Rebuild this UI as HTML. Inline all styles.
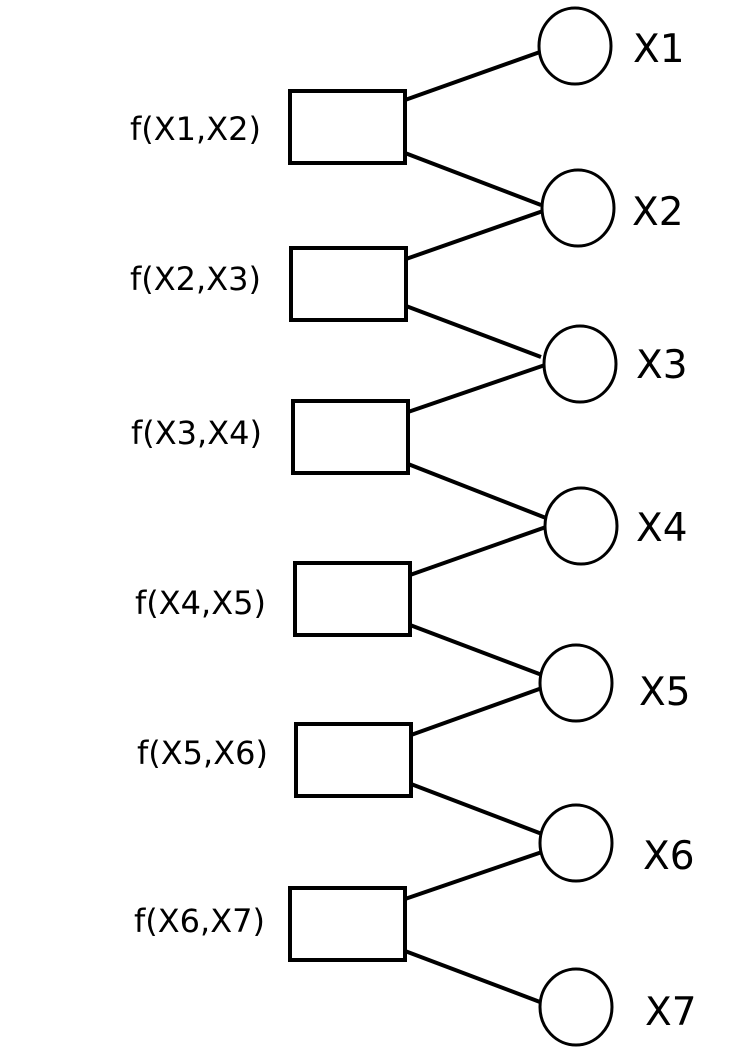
<!DOCTYPE html>
<html><head><meta charset="utf-8"><style>
html,body{margin:0;padding:0;background:#fff;}
svg{display:block;}
text{font-family:"DejaVu Sans","Liberation Sans",sans-serif;fill:#000;}
</style></head><body>
<svg width="745" height="1053" viewBox="0 0 745 1053" xmlns="http://www.w3.org/2000/svg">
<g stroke="#000" stroke-width="4" fill="none">
<line x1="405" y1="100" x2="540" y2="52"/>
<line x1="405" y1="153" x2="541" y2="205"/>
<line x1="406" y1="259" x2="543" y2="211"/>
<line x1="406" y1="306" x2="541" y2="357"/>
<line x1="408" y1="412" x2="545" y2="365"/>
<line x1="408" y1="464" x2="546" y2="518"/>
<line x1="410" y1="575" x2="546" y2="527"/>
<line x1="410" y1="625" x2="542" y2="675"/>
<line x1="411" y1="735" x2="542" y2="688"/>
<line x1="411" y1="784" x2="542" y2="834"/>
<line x1="405" y1="899" x2="542" y2="852"/>
<line x1="405" y1="951" x2="540" y2="1002"/>
<rect x="290" y="91" width="115" height="72"/>
<rect x="291" y="248" width="115" height="72"/>
<rect x="293" y="401" width="115" height="72"/>
<rect x="295" y="563" width="115" height="72"/>
<rect x="296" y="724" width="115" height="72"/>
<rect x="290" y="888" width="115" height="72"/>
</g>
<g stroke="#000" stroke-width="3" fill="#fff">
<ellipse cx="575" cy="46" rx="36" ry="38"/>
<ellipse cx="578" cy="208" rx="36" ry="38"/>
<ellipse cx="580" cy="364" rx="36" ry="38"/>
<ellipse cx="581" cy="526" rx="36" ry="38"/>
<ellipse cx="576" cy="683" rx="36" ry="38"/>
<ellipse cx="576" cy="843" rx="36" ry="38"/>
<ellipse cx="576" cy="1007" rx="36" ry="38"/>
</g>
<g font-size="32">
<text x="130" y="140">f(X1,X2)</text>
<text x="130" y="290">f(X2,X3)</text>
<text x="131" y="444">f(X3,X4)</text>
<text x="135" y="614">f(X4,X5)</text>
<text x="137" y="764">f(X5,X6)</text>
<text x="134" y="932">f(X6,X7)</text>
</g>
<g font-size="39">
<text x="633" y="62">X1</text>
<text x="632" y="225">X2</text>
<text x="636" y="378">X3</text>
<text x="636" y="541">X4</text>
<text x="639" y="705">X5</text>
<text x="643" y="869">X6</text>
<text x="645" y="1025">X7</text>
</g>
</svg>
</body></html>
